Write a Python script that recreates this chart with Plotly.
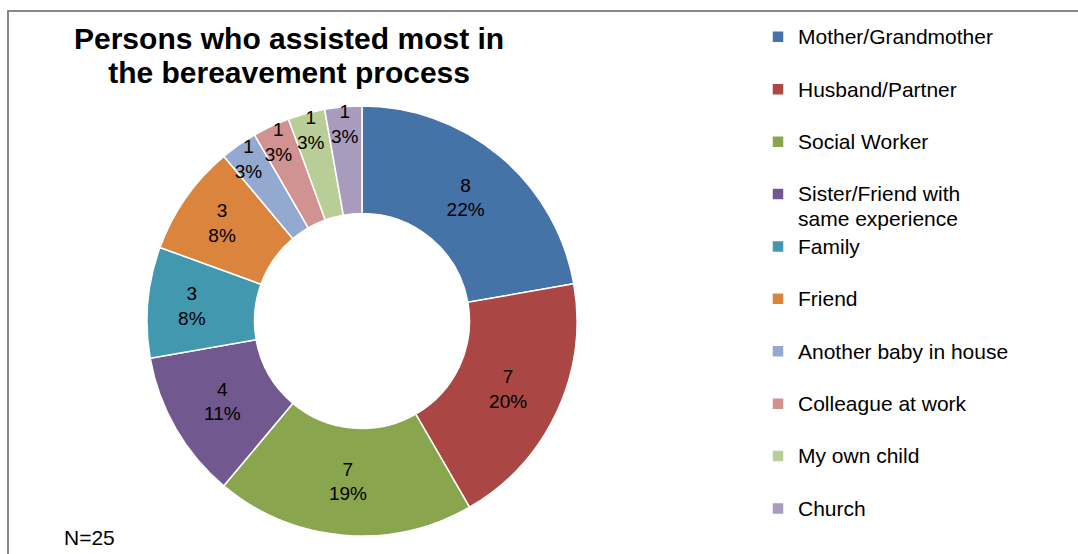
import plotly.graph_objects as go

# Who helped most during bereavement (counts of respondents)
categories = [
    "Mother/Grandmother",
    "Husband/Partner",
    "Social Worker",
    "Sister/Friend with<br>same experience",
    "Family",
    "Friend",
    "Another baby in house",
    "Colleague at work",
    "My own child",
    "Church",
]
counts = [8, 7, 7, 4, 3, 3, 1, 1, 1, 1]
pct_labels = ["22%", "20%", "19%", "11%", "8%", "8%", "3%", "3%", "3%", "3%"]
colors = [
    "#4572A7", "#AA4643", "#89A54E", "#71588F", "#4198AF",
    "#DB843D", "#93A9CF", "#D19392", "#B9CD96", "#A99BBD",
]

W, H = 1078, 554
FONT = "Liberation Sans, Arial, sans-serif"

# donut centre and radius in pixels
cx, cy, r = 362, 321, 215


def big(text, px):
    """Render text larger than the line-height base font."""
    return "<br>".join(
        f'<span style="font-size:{px}px">{part}</span>' for part in text.split("<br>")
    )


# pad single-line entries to two lines so every legend row has equal height
legend_labels = [
    big(c, 21) if "<br>" in c else big(c, 21) + "<br> " for c in categories
]

fig = go.Figure(
    go.Pie(
        labels=legend_labels,
        values=counts,
        customdata=pct_labels,
        texttemplate="%{value}<br>%{customdata}",
        textposition="inside",
        insidetextorientation="horizontal",
        sort=False,
        direction="clockwise",
        rotation=0,
        hole=0.5,
        marker=dict(colors=colors, line=dict(color="white", width=1.5)),
        textfont=dict(family=FONT, size=19, color="black"),
        hovertext=categories,
        hoverinfo="text+value+percent",
        domain=dict(
            x=[(cx - r) / W, (cx + r) / W],
            y=[(H - cy - r) / H, (H - cy + r) / H],
        ),
    )
)

fig.update_layout(
    width=W,
    height=H,
    margin=dict(l=0, r=0, t=0, b=0),
    paper_bgcolor="white",
    plot_bgcolor="white",
    uniformtext=dict(minsize=19, mode="show"),
    legend=dict(
        x=758 / W,
        y=1 - 18 / H,
        xanchor="left",
        yanchor="top",
        valign="top",
        traceorder="normal",
        font=dict(family=FONT, size=19, color="black"),
        bgcolor="rgba(0,0,0,0)",
    ),
    annotations=[
        dict(
            text="<b>" + big("Persons who assisted most in<br>the bereavement process", 30) + "</b>",
            x=289 / W, y=1 - 20 / H,
            xref="paper", yref="paper",
            xanchor="center", yanchor="top",
            align="center", showarrow=False,
            font=dict(family=FONT, size=26, color="black"),
        ),
        dict(
            text="N=25",
            x=62 / W, y=1 - 537 / H,
            xref="paper", yref="paper",
            xanchor="left", yanchor="middle",
            showarrow=False,
            font=dict(family=FONT, size=21, color="black"),
        ),
    ],
    shapes=[
        dict(
            type="rect", xref="paper", yref="paper",
            x0=8 / W, x1=1.05, y0=-0.05, y1=1 - 11 / H,
            line=dict(color="#888888", width=2),
            fillcolor="rgba(0,0,0,0)", layer="below",
        )
    ],
)

fig.write_html("out.html")
